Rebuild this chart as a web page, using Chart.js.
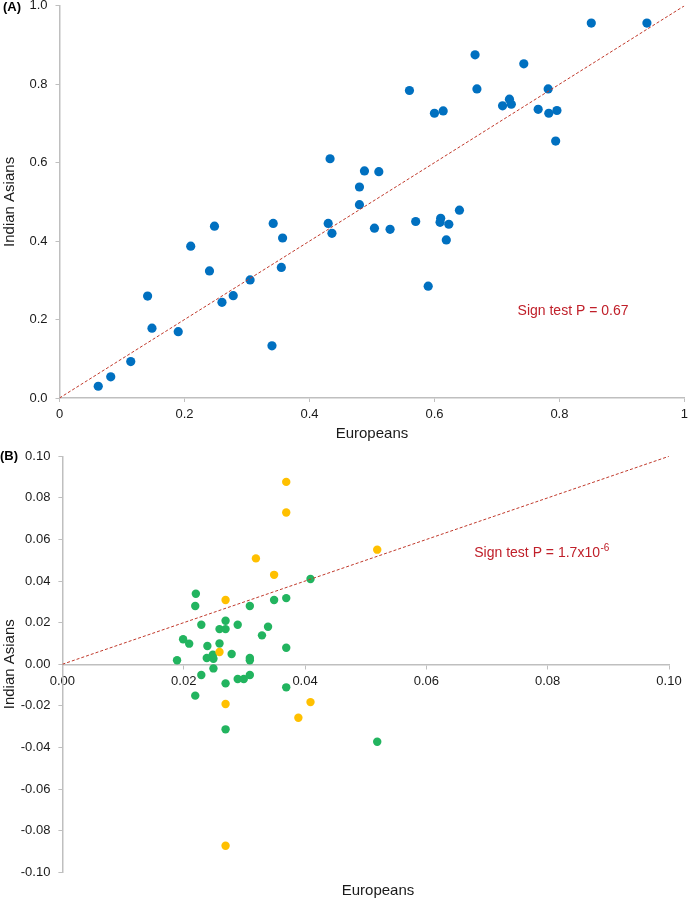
<!DOCTYPE html>
<html>
<head>
<meta charset="utf-8">
<script src="https://cdn.jsdelivr.net/npm/chart.js@4.4.1/dist/chart.umd.min.js"></script>
<style>
  html, body { margin: 0; padding: 0; background: #fff; }
  #wrapA { position: absolute; left: 0; top: 0; width: 689px; height: 445px; }
  #wrapB { position: absolute; left: 0; top: 445px; width: 689px; height: 454px; }
</style>
</head>
<body>
<div id="wrapA"><canvas id="chartA"></canvas></div>
<div id="wrapB"><canvas id="chartB"></canvas></div>
<script>
// ---------- Panel A data ----------
const europeansA = [0.062,0.082,0.114,0.141,0.148,0.190,0.210,0.240,0.248,0.260,0.278,0.305,0.340,0.342,0.357,0.355,0.433,0.430,0.436,0.851,0.940,0.665,0.743,0.560,0.668,0.782,0.600,0.614,0.709,0.720,0.723,0.766,0.783,0.796,0.794,0.488,0.511,0.480,0.480,0.504,0.529,0.570,0.610,0.609,0.623,0.640,0.619,0.590];
const indianAsiansA = [0.030,0.054,0.093,0.260,0.178,0.169,0.387,0.324,0.438,0.244,0.261,0.301,0.133,0.445,0.408,0.333,0.610,0.445,0.420,0.956,0.956,0.875,0.852,0.784,0.788,0.788,0.726,0.732,0.745,0.762,0.749,0.736,0.726,0.733,0.655,0.579,0.577,0.538,0.493,0.433,0.430,0.450,0.458,0.448,0.443,0.479,0.403,0.285];
const identityA = [0, 1];
const xTicksA = [0, 0.2, 0.4, 0.6, 0.8, 1];
const xTickLabelsA = ['0', '0.2', '0.4', '0.6', '0.8', '1'];
const yTicksA = [0, 0.2, 0.4, 0.6, 0.8, 1.0];
const yTickLabelsA = ['0.0', '0.2', '0.4', '0.6', '0.8', '1.0'];
const signTextA = 'Sign test P = 0.67';

// ---------- Panel B data ----------
const europeansBGreen = [0.0220,0.0219,0.0229,0.0199,0.0209,0.0189,0.0239,0.0238,0.0248,0.0249,0.0259,0.0259,0.0269,0.0269,0.0289,0.0279,0.0309,0.0309,0.0309,0.0329,0.0339,0.0349,0.0369,0.0369,0.0409,0.0229,0.0249,0.0219,0.0269,0.0289,0.0299,0.0309,0.0369,0.0269,0.0519];
const indianAsiansBGreen = [0.0339,0.0280,0.0190,0.0120,0.0099,0.0019,0.0088,0.0030,0.0046,0.0026,0.0100,0.0169,0.0209,0.0169,0.0190,0.0049,0.0280,0.0030,0.0019,0.0139,0.0180,0.0309,0.0318,0.0079,0.0410,-0.0052,-0.0020,-0.0151,-0.0092,-0.0071,-0.0071,-0.0052,-0.0111,-0.0313,-0.0373];
const europeansBOrange = [0.0319,0.0349,0.0269,0.0259,0.0269,0.0409,0.0389,0.0519,0.0369,0.0369,0.0269];
const indianAsiansBOrange = [0.0509,0.0430,0.0309,0.0059,-0.0191,-0.0182,-0.0257,0.0551,0.0877,0.0730,-0.0873];
const identityB = [0, 0.10];
const xTicksB = [0, 0.02, 0.04, 0.06, 0.08, 0.10];
const xTickLabelsB = ['0.00', '0.02', '0.04', '0.06', '0.08', '0.10'];
const yTicksB = [-0.10, -0.08, -0.06, -0.04, -0.02, 0, 0.02, 0.04, 0.06, 0.08, 0.10];
const yTickLabelsB = ['-0.10', '-0.08', '-0.06', '-0.04', '-0.02', '0.00', '0.02', '0.04', '0.06', '0.08', '0.10'];
const signTextB = 'Sign test P = 1.7x10';
const signSupB = '-6';

// ---------- styling ----------
const FONT = "'Liberation Sans', Arial, sans-serif";
const AXIS_GRAY = '#BFBFBF';
const TEXT_COLOR = '#1a1a1a';
const RED_TEXT = '#C0202A';
const RED_LINE = '#C0392B';

Chart.defaults.font.family = FONT;
Chart.defaults.color = TEXT_COLOR;
Chart.defaults.animation = false;

const zip = (xs, ys) => xs.map((x, i) => ({ x, y: ys[i] }));

function setTicks(values) {
  return function (scale) { scale.ticks = values.map(v => ({ value: v })); };
}
function fitWidth(w) {
  return function (scale) { scale.width = w; scale.paddingTop = 0; scale.paddingBottom = 0; };
}
function fitHeight(h) {
  return function (scale) { scale.height = h; scale.paddingLeft = 0; scale.paddingRight = 0; };
}

const gridOpts = { display: true, drawOnChartArea: false, drawTicks: true, tickLength: 4, color: AXIS_GRAY };
const borderOpts = { display: true, color: AXIS_GRAY, width: 1.5 };

// ---------- Chart A ----------
const textPluginA = {
  id: 'textA',
  afterDraw(chart) {
    const ctx = chart.ctx;
    const xs = chart.scales.x, ys = chart.scales.y;
    ctx.save();
    ctx.fillStyle = '#000';
    ctx.font = "bold 13px " + FONT;
    ctx.textAlign = 'left';
    ctx.textBaseline = 'middle';
    ctx.fillText('(A)', 3, 7);
    ctx.fillStyle = RED_TEXT;
    ctx.font = "14px " + FONT;
    ctx.fillText(signTextA, xs.getPixelForValue(0.733), ys.getPixelForValue(0.222));
    ctx.restore();
  }
};

new Chart(document.getElementById('chartA'), {
  type: 'scatter',
  data: {
    datasets: [
      {
        type: 'line',
        data: zip(identityA, identityA),
        borderColor: RED_LINE,
        borderWidth: 1,
        borderDash: [3, 2],
        pointRadius: 0,
        fill: false,
        order: 0
      },
      {
        data: zip(europeansA, indianAsiansA),
        backgroundColor: '#0070C0',
        borderWidth: 0,
        pointRadius: 4.6,
        order: 1
      }
    ]
  },
  options: {
    responsive: true,
    maintainAspectRatio: false,
    layout: { padding: { top: 5.8, right: 1.5, bottom: 0, left: 0 } },
    plugins: { legend: { display: false }, tooltip: { enabled: false } },
    scales: {
      x: {
        type: 'linear', min: 0, max: 1,
        afterBuildTicks: setTicks(xTicksA),
        afterFit: fitHeight(47),
        ticks: { autoSkip: false, maxRotation: 0, padding: 5, font: { size: 13 }, color: TEXT_COLOR,
                 callback: (v, i) => xTickLabelsA[i] },
        grid: gridOpts,
        border: borderOpts,
        title: { display: true, text: 'Europeans', font: { size: 15 }, color: TEXT_COLOR, padding: { top: 0, bottom: 2 } }
      },
      y: {
        type: 'linear', min: 0, max: 1,
        afterBuildTicks: setTicks(yTicksA),
        afterFit: fitWidth(59.5),
        ticks: { autoSkip: false, padding: 8, font: { size: 13 }, color: TEXT_COLOR,
                 callback: (v, i) => yTickLabelsA[i] },
        grid: gridOpts,
        border: borderOpts,
        title: { display: true, text: 'Indian Asians', font: { size: 15 }, color: TEXT_COLOR, padding: { top: 1, bottom: 0 } }
      }
    }
  },
  plugins: [textPluginA]
});

// ---------- Chart B ----------
const textPluginB = {
  id: 'textB',
  afterDraw(chart) {
    const ctx = chart.ctx;
    const xs = chart.scales.x, ys = chart.scales.y;
    ctx.save();
    ctx.fillStyle = '#000';
    ctx.font = "bold 13px " + FONT;
    ctx.textAlign = 'left';
    ctx.textBaseline = 'middle';
    ctx.fillText('(B)', 0, 11.5);
    // x-axis title at the bottom
    ctx.fillStyle = TEXT_COLOR;
    ctx.font = "15px " + FONT;
    ctx.textAlign = 'center';
    ctx.fillText('Europeans', 378, ys.bottom + 18.5);
    // sign test annotation with superscript
    const tx = xs.getPixelForValue(0.0679), ty = ys.getPixelForValue(0.0535);
    ctx.fillStyle = RED_TEXT;
    ctx.textAlign = 'left';
    ctx.font = "14px " + FONT;
    ctx.fillText(signTextB, tx, ty);
    const w = ctx.measureText(signTextB).width;
    ctx.font = "10px " + FONT;
    ctx.fillText(signSupB, tx + w + 0.5, ty - 5);
    ctx.restore();
  }
};

new Chart(document.getElementById('chartB'), {
  type: 'scatter',
  data: {
    datasets: [
      {
        type: 'line',
        data: zip(identityB, identityB),
        borderColor: RED_LINE,
        borderWidth: 1,
        borderDash: [3, 2],
        pointRadius: 0,
        fill: false,
        order: 0
      },
      {
        data: zip(europeansBGreen, indianAsiansBGreen),
        backgroundColor: '#22B45F',
        borderWidth: 0,
        pointRadius: 4.2,
        order: 2
      },
      {
        data: zip(europeansBOrange, indianAsiansBOrange),
        backgroundColor: '#FFC000',
        borderWidth: 0,
        pointRadius: 4.2,
        order: 1
      }
    ]
  },
  options: {
    responsive: true,
    maintainAspectRatio: false,
    layout: { padding: { top: 11.3, right: 20, bottom: 26.8, left: 0 } },
    plugins: { legend: { display: false }, tooltip: { enabled: false } },
    scales: {
      x: {
        type: 'linear', min: 0, max: 0.10,
        position: { y: 0 },
        afterBuildTicks: setTicks(xTicksB),
        afterFit: fitHeight(0),
        ticks: { autoSkip: false, maxRotation: 0, padding: 5, font: { size: 13 }, color: TEXT_COLOR,
                 callback: (v, i) => xTickLabelsB[i] },
        grid: gridOpts,
        border: borderOpts
      },
      y: {
        type: 'linear', min: -0.10, max: 0.10,
        afterBuildTicks: setTicks(yTicksB),
        afterFit: fitWidth(62.4),
        ticks: { autoSkip: false, padding: 8, font: { size: 13 }, color: TEXT_COLOR,
                 callback: (v, i) => yTickLabelsB[i] },
        grid: gridOpts,
        border: borderOpts,
        title: { display: true, text: 'Indian Asians', font: { size: 15 }, color: TEXT_COLOR, padding: { top: 1, bottom: 0 } }
      }
    }
  },
  plugins: [textPluginB]
});
</script>
</body>
</html>
